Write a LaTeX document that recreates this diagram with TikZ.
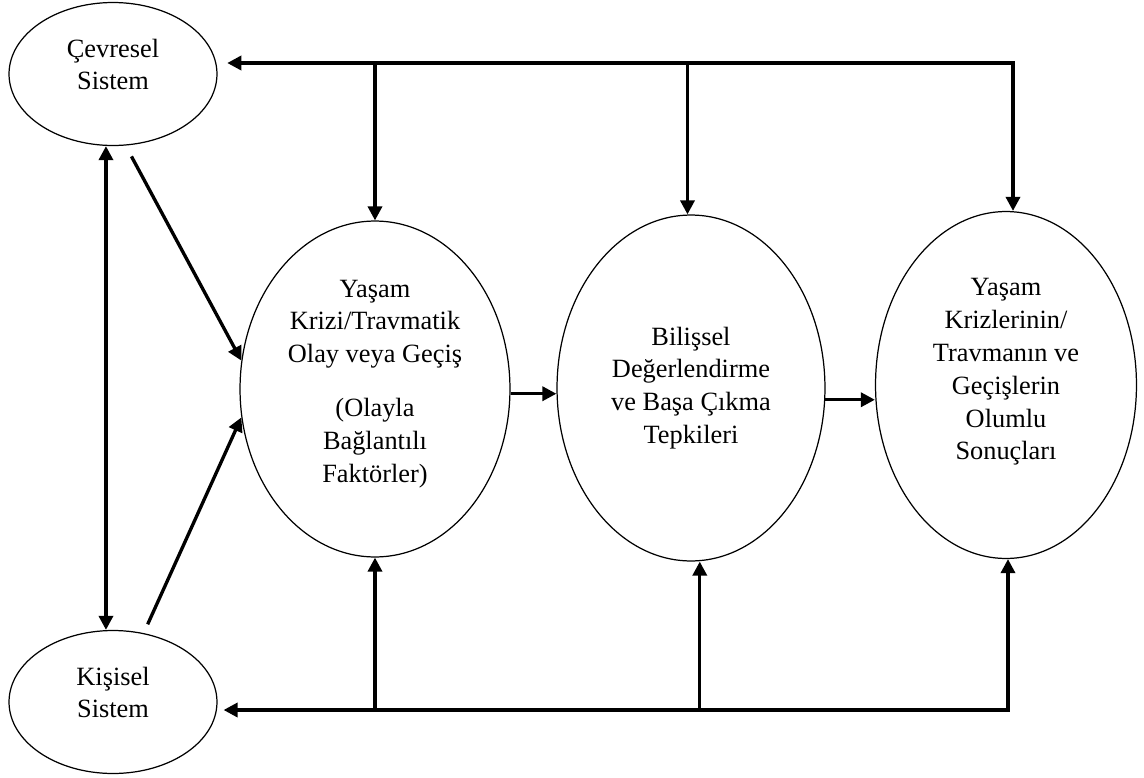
\documentclass[tikz,border=0pt]{standalone}
\usepackage{fontspec}
\setmainfont{Liberation Serif}
\usetikzlibrary{shapes.geometric, arrows.meta}

% extra depth under the last line, lifts the text inside its ellipse
\newcommand{\lift}[1]{\rule[-#1]{0pt}{#1}}

\begin{document}
\begin{tikzpicture}[
    x=0.02cm, y=-0.02cm,
    font=\fontsize{15}{18.7}\selectfont,
    sys/.style={ellipse, draw, line width=0.7pt, align=center, inner sep=0pt,
        minimum width=4.16cm, minimum height=2.86cm},
    stage/.style={ellipse, draw, line width=0.7pt, align=center, inner sep=0pt},
    arr/.style={-{Triangle[length=8pt,width=8pt]}, line width=1.9pt},
    dbl/.style={{Triangle[length=8pt,width=8pt]}-{Triangle[length=8pt,width=8pt]}, line width=1.9pt}
]
    \useasboundingbox (0,0) rectangle (1144,778);

    % The two systems on the left
    \node[sys] (cev) at (113,74) {Çevresel\\Sistem\lift{11pt}};
    \node[sys] (kis) at (113,702) {Kişisel\\Sistem\lift{11pt}};

    % The three stages in a row
    \node[stage, minimum width=5.4cm, minimum height=6.72cm] (ev) at (375,389)
        {Yaşam\\Krizi/Travmatik\\Olay veya Geçiş\\[12pt](Olayla\\Bağlantılı\\Faktörler)\lift{9pt}};
    \node[stage, minimum width=5.36cm, minimum height=6.92cm] (bil) at (691,388)
        {Bilişsel\\Değerlendirme\\ve Başa Çıkma\\Tepkileri};
    \node[stage, minimum width=5.22cm, minimum height=6.94cm] (res) at (1006,385)
        {Yaşam\\Krizlerinin/\\Travmanın ve\\Geçişlerin\\Olumlu\\Sonuçları\lift{18pt}};

    \coordinate (topR) at (1013,63);
    \coordinate (botR) at (1008,710);

    % Top line: environment to every stage
    \draw[dbl, shorten <=5.5pt] (cev.east |- topR) -- (topR) -- (res.north -| topR);
    \draw[arr] (ev.north |- topR) -- (ev.north);
    \draw[arr] ([xshift=-2pt]bil.north |- topR) -- ([xshift=-2pt]bil.north);

    % Bottom line: person to every stage
    \draw[dbl, shorten <=3.4pt] (kis.east |- botR) -- (botR) -- (res.south -| botR);
    \draw[arr] (ev.south |- botR) -- (ev.south);
    \draw[arr] ([xshift=5pt]bil.south |- botR) -- ([xshift=5pt]bil.south);

    % Stages in sequence
    \draw[arr] (ev.-2) -- (bil.west |- ev.-2);
    \draw[arr] (bil.-5) -- (res.west |- bil.-5);

    % Systems into the crisis
    \draw[dbl] ([xshift=-4pt]cev.south) -- ([xshift=-4pt]kis.north);
    \draw[arr, shorten <=7pt] (cev.280) -- (ev.168);
    \draw[arr, shorten <=5.5pt] (kis.66) -- (ev.192);
\end{tikzpicture}
\end{document}
